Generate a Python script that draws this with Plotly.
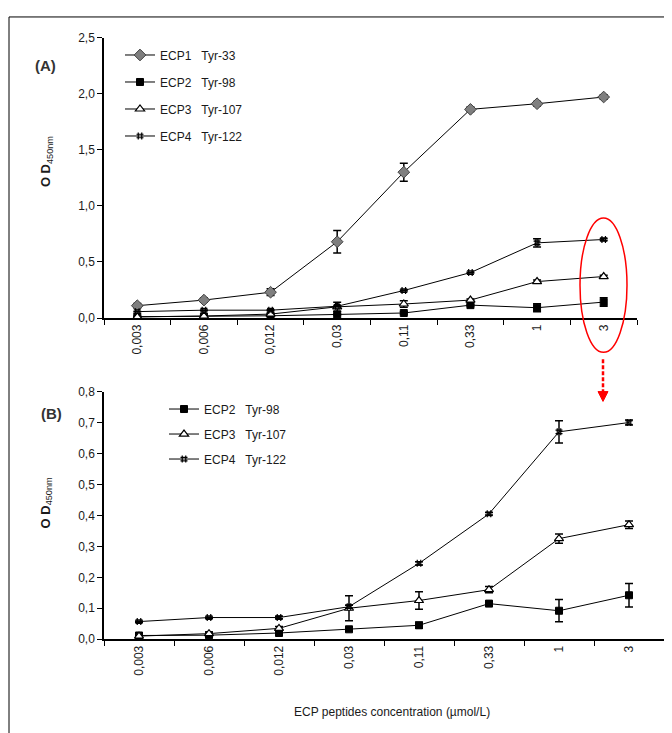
import plotly.graph_objects as go

# page body has an 8px margin; figure is sized to fill the remaining window
OFF = 8
W, H = 672 - OFF, 733 - OFF

concentrations = ["0,003", "0,006", "0,012", "0,03", "0,11", "0,33", "1", "3"]

ecp1_vals = [0.11, 0.16, 0.23, 0.68, 1.30, 1.86, 1.91, 1.97]
ecp1_err = [0.02, 0.02, 0.03, 0.10, 0.08, 0.02, 0.02, 0.02]

ecp2_vals = [0.012, 0.013, 0.020, 0.032, 0.045, 0.115, 0.092, 0.142]
ecp2_err = [0.004, 0.004, 0.004, 0.005, 0.010, 0.008, 0.036, 0.038]

ecp3_vals = [0.010, 0.018, 0.035, 0.100, 0.125, 0.160, 0.325, 0.370]
ecp3_err = [0.004, 0.005, 0.006, 0.040, 0.028, 0.010, 0.015, 0.012]

ecp4_vals = [0.057, 0.070, 0.070, 0.105, 0.245, 0.405, 0.670, 0.700]
ecp4_err = [0.002, 0.002, 0.004, 0.005, 0.005, 0.004, 0.036, 0.008]

names = {
    "ECP1": "ECP1\u00a0\u00a0\u00a0Tyr-33",
    "ECP2": "ECP2\u00a0\u00a0\u00a0Tyr-98",
    "ECP3": "ECP3\u00a0\u00a0\u00a0Tyr-107",
    "ECP4": "ECP4\u00a0\u00a0\u00a0Tyr-122",
}

FONT = "Liberation Sans, Arial, sans-serif"
TXT = "#1a1a1a"


def px(x):
    return (x - OFF) / W


def py(y):
    return (733 - y) / H


styles = {
    "ECP1": dict(symbol="diamond", size=9, color="#7f7f7f", line=dict(color="#404040", width=1)),
    "ECP2": dict(symbol="square", size=7, color="black", line=dict(color="black", width=1)),
    "ECP3": dict(symbol="triangle-up", size=8, color="white", line=dict(color="black", width=1.2)),
    "ECP4": dict(symbol="hash-open", size=7, color="black", line=dict(color="black", width=1.2)),
}

series = {
    "ECP1": (ecp1_vals, ecp1_err),
    "ECP2": (ecp2_vals, ecp2_err),
    "ECP3": (ecp3_vals, ecp3_err),
    "ECP4": (ecp4_vals, ecp4_err),
}

fig = go.Figure()

for key in ["ECP1", "ECP2", "ECP3", "ECP4"]:
    vals, err = series[key]
    fig.add_trace(go.Scatter(
        x=concentrations, y=vals, name=names[key], mode="lines+markers",
        line=dict(color="black", width=1),
        marker=styles[key],
        error_y=dict(type="data", array=err, color="black", thickness=1.5, width=4),
        xaxis="x", yaxis="y", legend="legend", legendgroup="a" + key,
    ))

for key in ["ECP2", "ECP3", "ECP4"]:
    vals, err = series[key]
    fig.add_trace(go.Scatter(
        x=concentrations, y=vals, name=names[key], mode="lines+markers",
        line=dict(color="black", width=1),
        marker=styles[key],
        error_y=dict(type="data", array=err, color="black", thickness=1.5, width=4),
        xaxis="x2", yaxis="y2", legend="legend2", legendgroup="b" + key,
    ))

xcommon = dict(
    type="category", categoryorder="array", categoryarray=concentrations,
    range=[-0.5, 7.5], tickson="boundaries", ticks="outside", ticklen=5,
    tickcolor="black", showline=True, linecolor="black", linewidth=1.5,
    showgrid=False, zeroline=False, tickangle=-90,
    tickfont=dict(family=FONT, size=12, color=TXT),
)
ycommon = dict(
    ticks="outside", ticklen=5, tickcolor="black", showline=True,
    linecolor="black", linewidth=1.5, showgrid=False, zeroline=False,
    tickformat=".1f", tickfont=dict(family=FONT, size=12, color=TXT),
)

fig.update_layout(
    width=W, height=H, margin=dict(l=0, r=0, t=0, b=0),
    paper_bgcolor="white", plot_bgcolor="white",
    separators=",.",
    font=dict(family=FONT, size=12, color=TXT),
    xaxis=dict(domain=[px(104), px(637)], anchor="y", **xcommon),
    yaxis=dict(domain=[py(317), py(31)], anchor="x", range=[0, 2.5], dtick=0.5, **ycommon),
    xaxis2=dict(domain=[px(104), px(664)], anchor="y2", **xcommon),
    yaxis2=dict(domain=[py(644.5), py(392)], anchor="x2", range=[0, 0.8], dtick=0.1, **ycommon),
    legend=dict(x=px(120), y=py(34), xanchor="left", yanchor="top",
                bgcolor="rgba(0,0,0,0)", traceorder="grouped", tracegroupgap=8,
                font=dict(family=FONT, size=12, color=TXT), itemwidth=30),
    legend2=dict(x=px(164), y=py(395), xanchor="left", yanchor="top",
                 bgcolor="rgba(0,0,0,0)", traceorder="grouped", tracegroupgap=6,
                 font=dict(family=FONT, size=12, color=TXT), itemwidth=30),
    showlegend=True,
)

annotations = [
    dict(text="<b>(A)</b>", x=px(45), y=py(59), xref="paper", yref="paper",
         xanchor="center", yanchor="middle",
         showarrow=False, font=dict(family=FONT, size=15, color="#333")),
    dict(text="<b>(B)</b>", x=px(51), y=py(414), xref="paper", yref="paper",
         xanchor="center", yanchor="middle",
         showarrow=False, font=dict(family=FONT, size=15, color="#333")),
    dict(text="<b>O D</b><sub>450nm</sub>", x=px(46), y=py(158), xref="paper", yref="paper",
         xanchor="center", yanchor="middle",
         showarrow=False, textangle=-90, font=dict(family=FONT, size=13, color=TXT)),
    dict(text="<b>O D</b><sub>450nm</sub>", x=px(46), y=py(506), xref="paper", yref="paper",
         xanchor="center", yanchor="middle",
         showarrow=False, textangle=-90, font=dict(family=FONT, size=13, color=TXT)),
    dict(text="ECP peptides concentration (\u00b5mol/L)", x=px(392), y=py(719),
         xref="paper", yref="paper", showarrow=False,
         xanchor="center", yanchor="middle",
         font=dict(family=FONT, size=12, color=TXT)),
]
fig.update_layout(annotations=annotations)

shapes = [
    # frame (top and left edges)
    dict(type="line", xref="paper", yref="paper", x0=px(9), x1=1.05, y0=py(10), y1=py(10),
         line=dict(color="black", width=1)),
    dict(type="line", xref="paper", yref="paper", x0=px(9), x1=px(9), y0=py(10), y1=-0.05,
         line=dict(color="black", width=1)),
    # red ellipse
    dict(type="circle", xref="paper", yref="paper", x0=px(580), x1=px(627),
         y0=py(352), y1=py(215), line=dict(color="red", width=1.5)),
    # red dashed arrow shaft
    dict(type="line", xref="paper", yref="paper", x0=px(603), x1=px(603),
         y0=py(359), y1=py(393), line=dict(color="red", width=2.5, dash="4px,2px")),
    # arrowhead
    dict(type="path", xref="paper", yref="paper",
         path=f"M {px(598)} {py(392)} L {px(608)} {py(392)} L {px(603)} {py(402)} Z",
         fillcolor="red", line=dict(color="red", width=1)),
]
fig.update_layout(shapes=shapes)

fig.write_html("out.html")
